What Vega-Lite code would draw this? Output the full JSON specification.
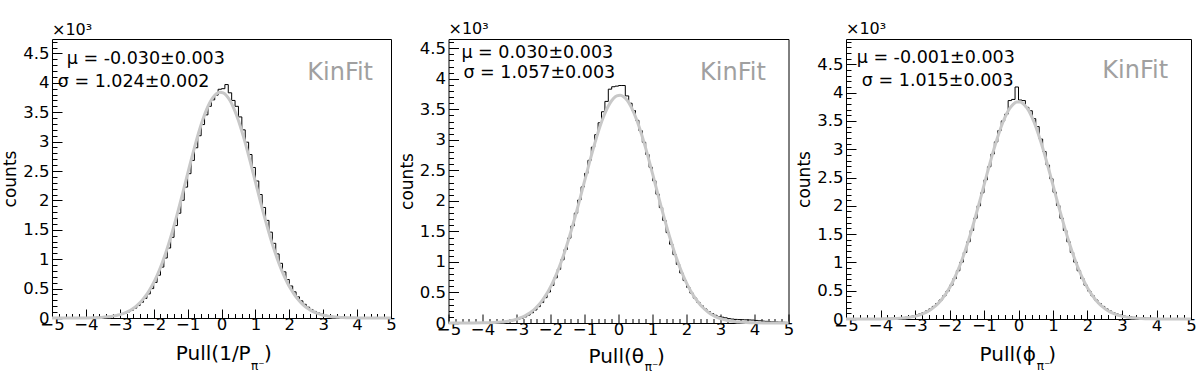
{
  "$schema": "https://vega.github.io/schema/vega-lite/v6.json",
  "background": "white",
  "padding": {"left": 1, "top": 20, "right": 5, "bottom": 2},
  "bounds": "flush",
  "spacing": 57.5,
  "config": {
    "font": "DejaVu Sans",
    "view": {"stroke": "black", "strokeWidth": 1},
    "axis": {
      "grid": false, "domain": false, "ticks": true, "tickColor": "black", "tickWidth": 1,
      "labelColor": "black", "labelFont": "DejaVu Sans", "labelFontSize": 16.5,
      "labelOverlap": false, "labelFlush": false, "labelBound": false,
      "titleColor": "black", "titleFont": "DejaVu Sans", "titleFontWeight": "normal"
    },
    "text": {"font": "DejaVu Sans", "align": "left", "baseline": "alphabetic", "color": "black"}
  },
  "datasets": {
    "hist": [
      {"v":"P","pull":-4.95,"count":0},{"v":"P","pull":-4.85,"count":1},{"v":"P","pull":-4.75,"count":1},{"v":"P","pull":-4.65,"count":1},{"v":"P","pull":-4.55,"count":2},{"v":"P","pull":-4.45,"count":2},{"v":"P","pull":-4.35,"count":3},{"v":"P","pull":-4.25,"count":3},{"v":"P","pull":-4.15,"count":4},{"v":"P","pull":-4.05,"count":5},
      {"v":"P","pull":-3.95,"count":6},{"v":"P","pull":-3.85,"count":8},{"v":"P","pull":-3.75,"count":10},{"v":"P","pull":-3.65,"count":12},{"v":"P","pull":-3.55,"count":15},{"v":"P","pull":-3.45,"count":18},{"v":"P","pull":-3.35,"count":22},{"v":"P","pull":-3.25,"count":28},{"v":"P","pull":-3.15,"count":36},{"v":"P","pull":-3.05,"count":48},
      {"v":"P","pull":-2.95,"count":62},{"v":"P","pull":-2.85,"count":80},{"v":"P","pull":-2.75,"count":104},{"v":"P","pull":-2.65,"count":132},{"v":"P","pull":-2.55,"count":168},{"v":"P","pull":-2.45,"count":212},{"v":"P","pull":-2.35,"count":268},{"v":"P","pull":-2.25,"count":333},{"v":"P","pull":-2.15,"count":410},{"v":"P","pull":-2.05,"count":500},
      {"v":"P","pull":-1.95,"count":605},{"v":"P","pull":-1.85,"count":728},{"v":"P","pull":-1.75,"count":866},{"v":"P","pull":-1.65,"count":1020},{"v":"P","pull":-1.55,"count":1190},{"v":"P","pull":-1.45,"count":1372},{"v":"P","pull":-1.35,"count":1572},{"v":"P","pull":-1.25,"count":1782},{"v":"P","pull":-1.15,"count":2002},{"v":"P","pull":-1.05,"count":2226},
      {"v":"P","pull":-0.95,"count":2455},{"v":"P","pull":-0.85,"count":2680},{"v":"P","pull":-0.75,"count":2895},{"v":"P","pull":-0.65,"count":3100},{"v":"P","pull":-0.55,"count":3290},{"v":"P","pull":-0.45,"count":3455},{"v":"P","pull":-0.35,"count":3600},{"v":"P","pull":-0.25,"count":3710},{"v":"P","pull":-0.15,"count":3790},{"v":"P","pull":-0.05,"count":3890},
      {"v":"P","pull":0.05,"count":3900},{"v":"P","pull":0.15,"count":3970},{"v":"P","pull":0.25,"count":3830},{"v":"P","pull":0.35,"count":3700},{"v":"P","pull":0.45,"count":3600},{"v":"P","pull":0.55,"count":3420},{"v":"P","pull":0.65,"count":3200},{"v":"P","pull":0.75,"count":2990},{"v":"P","pull":0.85,"count":2780},{"v":"P","pull":0.95,"count":2560},
      {"v":"P","pull":1.05,"count":2330},{"v":"P","pull":1.15,"count":2100},{"v":"P","pull":1.25,"count":1880},{"v":"P","pull":1.35,"count":1660},{"v":"P","pull":1.45,"count":1460},{"v":"P","pull":1.55,"count":1270},{"v":"P","pull":1.65,"count":1090},{"v":"P","pull":1.75,"count":930},{"v":"P","pull":1.85,"count":785},{"v":"P","pull":1.95,"count":655},
      {"v":"P","pull":2.05,"count":545},{"v":"P","pull":2.15,"count":445},{"v":"P","pull":2.25,"count":360},{"v":"P","pull":2.35,"count":292},{"v":"P","pull":2.45,"count":233},{"v":"P","pull":2.55,"count":184},{"v":"P","pull":2.65,"count":145},{"v":"P","pull":2.75,"count":112},{"v":"P","pull":2.85,"count":86},{"v":"P","pull":2.95,"count":66},
      {"v":"P","pull":3.05,"count":50},{"v":"P","pull":3.15,"count":38},{"v":"P","pull":3.25,"count":29},{"v":"P","pull":3.35,"count":22},{"v":"P","pull":3.45,"count":17},{"v":"P","pull":3.55,"count":13},{"v":"P","pull":3.65,"count":10},{"v":"P","pull":3.75,"count":8},{"v":"P","pull":3.85,"count":6},{"v":"P","pull":3.95,"count":5},
      {"v":"P","pull":4.05,"count":4},{"v":"P","pull":4.15,"count":3},{"v":"P","pull":4.25,"count":2},{"v":"P","pull":4.35,"count":2},{"v":"P","pull":4.45,"count":1},{"v":"P","pull":4.55,"count":1},{"v":"P","pull":4.65,"count":1},{"v":"P","pull":4.75,"count":0},{"v":"P","pull":4.85,"count":0},{"v":"P","pull":4.95,"count":0},

      {"v":"theta","pull":-4.95,"count":1},{"v":"theta","pull":-4.85,"count":1},{"v":"theta","pull":-4.75,"count":1},{"v":"theta","pull":-4.65,"count":2},{"v":"theta","pull":-4.55,"count":2},{"v":"theta","pull":-4.45,"count":2},{"v":"theta","pull":-4.35,"count":3},{"v":"theta","pull":-4.25,"count":3},{"v":"theta","pull":-4.15,"count":4},{"v":"theta","pull":-4.05,"count":5},
      {"v":"theta","pull":-3.95,"count":6},{"v":"theta","pull":-3.85,"count":7},{"v":"theta","pull":-3.75,"count":9},{"v":"theta","pull":-3.65,"count":11},{"v":"theta","pull":-3.55,"count":13},{"v":"theta","pull":-3.45,"count":16},{"v":"theta","pull":-3.35,"count":20},{"v":"theta","pull":-3.25,"count":26},{"v":"theta","pull":-3.15,"count":34},{"v":"theta","pull":-3.05,"count":45},
      {"v":"theta","pull":-2.95,"count":59},{"v":"theta","pull":-2.85,"count":77},{"v":"theta","pull":-2.75,"count":100},{"v":"theta","pull":-2.65,"count":130},{"v":"theta","pull":-2.55,"count":168},{"v":"theta","pull":-2.45,"count":213},{"v":"theta","pull":-2.35,"count":268},{"v":"theta","pull":-2.25,"count":335},{"v":"theta","pull":-2.15,"count":415},{"v":"theta","pull":-2.05,"count":508},
      {"v":"theta","pull":-1.95,"count":615},{"v":"theta","pull":-1.85,"count":740},{"v":"theta","pull":-1.75,"count":880},{"v":"theta","pull":-1.65,"count":1035},{"v":"theta","pull":-1.55,"count":1205},{"v":"theta","pull":-1.45,"count":1390},{"v":"theta","pull":-1.35,"count":1590},{"v":"theta","pull":-1.25,"count":1800},{"v":"theta","pull":-1.15,"count":2015},{"v":"theta","pull":-1.05,"count":2230},
      {"v":"theta","pull":-0.95,"count":2450},{"v":"theta","pull":-0.85,"count":2665},{"v":"theta","pull":-0.75,"count":2880},{"v":"theta","pull":-0.65,"count":3085},{"v":"theta","pull":-0.55,"count":3280},{"v":"theta","pull":-0.45,"count":3460},{"v":"theta","pull":-0.35,"count":3630},{"v":"theta","pull":-0.25,"count":3830},{"v":"theta","pull":-0.15,"count":3870},{"v":"theta","pull":-0.05,"count":3880},
      {"v":"theta","pull":0.05,"count":3890},{"v":"theta","pull":0.15,"count":3890},{"v":"theta","pull":0.25,"count":3720},{"v":"theta","pull":0.35,"count":3600},{"v":"theta","pull":0.45,"count":3480},{"v":"theta","pull":0.55,"count":3320},{"v":"theta","pull":0.65,"count":3150},{"v":"theta","pull":0.75,"count":2960},{"v":"theta","pull":0.85,"count":2760},{"v":"theta","pull":0.95,"count":2550},
      {"v":"theta","pull":1.05,"count":2330},{"v":"theta","pull":1.15,"count":2110},{"v":"theta","pull":1.25,"count":1890},{"v":"theta","pull":1.35,"count":1680},{"v":"theta","pull":1.45,"count":1480},{"v":"theta","pull":1.55,"count":1290},{"v":"theta","pull":1.65,"count":1120},{"v":"theta","pull":1.75,"count":960},{"v":"theta","pull":1.85,"count":820},{"v":"theta","pull":1.95,"count":695},
      {"v":"theta","pull":2.05,"count":585},{"v":"theta","pull":2.15,"count":490},{"v":"theta","pull":2.25,"count":408},{"v":"theta","pull":2.35,"count":338},{"v":"theta","pull":2.45,"count":280},{"v":"theta","pull":2.55,"count":230},{"v":"theta","pull":2.65,"count":188},{"v":"theta","pull":2.75,"count":154},{"v":"theta","pull":2.85,"count":126},{"v":"theta","pull":2.95,"count":104},
      {"v":"theta","pull":3.05,"count":95},{"v":"theta","pull":3.15,"count":85},{"v":"theta","pull":3.25,"count":72},{"v":"theta","pull":3.35,"count":64},{"v":"theta","pull":3.45,"count":59},{"v":"theta","pull":3.55,"count":56},{"v":"theta","pull":3.65,"count":54},{"v":"theta","pull":3.75,"count":52},{"v":"theta","pull":3.85,"count":50},{"v":"theta","pull":3.95,"count":48},
      {"v":"theta","pull":4.05,"count":42},{"v":"theta","pull":4.15,"count":36},{"v":"theta","pull":4.25,"count":31},{"v":"theta","pull":4.35,"count":27},{"v":"theta","pull":4.45,"count":23},{"v":"theta","pull":4.55,"count":20},{"v":"theta","pull":4.65,"count":17},{"v":"theta","pull":4.75,"count":14},{"v":"theta","pull":4.85,"count":12},{"v":"theta","pull":4.95,"count":10},

      {"v":"phi","pull":-4.95,"count":1},{"v":"phi","pull":-4.85,"count":1},{"v":"phi","pull":-4.75,"count":2},{"v":"phi","pull":-4.65,"count":2},{"v":"phi","pull":-4.55,"count":2},{"v":"phi","pull":-4.45,"count":3},{"v":"phi","pull":-4.35,"count":3},{"v":"phi","pull":-4.25,"count":4},{"v":"phi","pull":-4.15,"count":5},{"v":"phi","pull":-4.05,"count":6},
      {"v":"phi","pull":-3.95,"count":7},{"v":"phi","pull":-3.85,"count":9},{"v":"phi","pull":-3.75,"count":11},{"v":"phi","pull":-3.65,"count":13},{"v":"phi","pull":-3.55,"count":16},{"v":"phi","pull":-3.45,"count":20},{"v":"phi","pull":-3.35,"count":25},{"v":"phi","pull":-3.25,"count":31},{"v":"phi","pull":-3.15,"count":40},{"v":"phi","pull":-3.05,"count":52},
      {"v":"phi","pull":-2.95,"count":68},{"v":"phi","pull":-2.85,"count":88},{"v":"phi","pull":-2.75,"count":112},{"v":"phi","pull":-2.65,"count":142},{"v":"phi","pull":-2.55,"count":178},{"v":"phi","pull":-2.45,"count":222},{"v":"phi","pull":-2.35,"count":274},{"v":"phi","pull":-2.25,"count":336},{"v":"phi","pull":-2.15,"count":410},{"v":"phi","pull":-2.05,"count":495},
      {"v":"phi","pull":-1.95,"count":596},{"v":"phi","pull":-1.85,"count":715},{"v":"phi","pull":-1.75,"count":852},{"v":"phi","pull":-1.65,"count":1005},{"v":"phi","pull":-1.55,"count":1175},{"v":"phi","pull":-1.45,"count":1365},{"v":"phi","pull":-1.35,"count":1565},{"v":"phi","pull":-1.25,"count":1780},{"v":"phi","pull":-1.15,"count":2000},{"v":"phi","pull":-1.05,"count":2230},
      {"v":"phi","pull":-0.95,"count":2460},{"v":"phi","pull":-0.85,"count":2690},{"v":"phi","pull":-0.75,"count":2915},{"v":"phi","pull":-0.65,"count":3130},{"v":"phi","pull":-0.55,"count":3330},{"v":"phi","pull":-0.45,"count":3500},{"v":"phi","pull":-0.35,"count":3620},{"v":"phi","pull":-0.25,"count":3860},{"v":"phi","pull":-0.15,"count":3880},{"v":"phi","pull":-0.05,"count":4100},
      {"v":"phi","pull":0.05,"count":3870},{"v":"phi","pull":0.15,"count":3860},{"v":"phi","pull":0.25,"count":3740},{"v":"phi","pull":0.35,"count":3680},{"v":"phi","pull":0.45,"count":3540},{"v":"phi","pull":0.55,"count":3400},{"v":"phi","pull":0.65,"count":3180},{"v":"phi","pull":0.75,"count":2960},{"v":"phi","pull":0.85,"count":2720},{"v":"phi","pull":0.95,"count":2480},
      {"v":"phi","pull":1.05,"count":2240},{"v":"phi","pull":1.15,"count":2005},{"v":"phi","pull":1.25,"count":1780},{"v":"phi","pull":1.35,"count":1565},{"v":"phi","pull":1.45,"count":1365},{"v":"phi","pull":1.55,"count":1175},{"v":"phi","pull":1.65,"count":1005},{"v":"phi","pull":1.75,"count":852},{"v":"phi","pull":1.85,"count":715},{"v":"phi","pull":1.95,"count":596},
      {"v":"phi","pull":2.05,"count":495},{"v":"phi","pull":2.15,"count":410},{"v":"phi","pull":2.25,"count":336},{"v":"phi","pull":2.35,"count":274},{"v":"phi","pull":2.45,"count":222},{"v":"phi","pull":2.55,"count":178},{"v":"phi","pull":2.65,"count":142},{"v":"phi","pull":2.75,"count":112},{"v":"phi","pull":2.85,"count":88},{"v":"phi","pull":2.95,"count":68},
      {"v":"phi","pull":3.05,"count":54},{"v":"phi","pull":3.15,"count":43},{"v":"phi","pull":3.25,"count":35},{"v":"phi","pull":3.35,"count":29},{"v":"phi","pull":3.45,"count":24},{"v":"phi","pull":3.55,"count":20},{"v":"phi","pull":3.65,"count":17},{"v":"phi","pull":3.75,"count":14},{"v":"phi","pull":3.85,"count":12},{"v":"phi","pull":3.95,"count":10},
      {"v":"phi","pull":4.05,"count":8},{"v":"phi","pull":4.15,"count":7},{"v":"phi","pull":4.25,"count":6},{"v":"phi","pull":4.35,"count":5},{"v":"phi","pull":4.45,"count":4},{"v":"phi","pull":4.55,"count":3},{"v":"phi","pull":4.65,"count":3},{"v":"phi","pull":4.75,"count":2},{"v":"phi","pull":4.85,"count":2},{"v":"phi","pull":4.95,"count":1}
    ],
    "fit": [
      {"v":"P","pull":-5,"count":0},{"v":"P","pull":-4.5,"count":0},{"v":"P","pull":-4,"count":2},{"v":"P","pull":-3.75,"count":5},{"v":"P","pull":-3.55,"count":10},{"v":"P","pull":-3.45,"count":15},{"v":"P","pull":-3.35,"count":20},{"v":"P","pull":-3.25,"count":27},{"v":"P","pull":-3.15,"count":37},{"v":"P","pull":-3.05,"count":50},
      {"v":"P","pull":-2.95,"count":66},{"v":"P","pull":-2.85,"count":87},{"v":"P","pull":-2.75,"count":113},{"v":"P","pull":-2.65,"count":146},{"v":"P","pull":-2.55,"count":186},{"v":"P","pull":-2.45,"count":235},{"v":"P","pull":-2.35,"count":295},{"v":"P","pull":-2.25,"count":366},{"v":"P","pull":-2.15,"count":450},{"v":"P","pull":-2.05,"count":549},
      {"v":"P","pull":-1.95,"count":662},{"v":"P","pull":-1.85,"count":791},{"v":"P","pull":-1.75,"count":937},{"v":"P","pull":-1.65,"count":1099},{"v":"P","pull":-1.55,"count":1276},{"v":"P","pull":-1.45,"count":1468},{"v":"P","pull":-1.35,"count":1673},{"v":"P","pull":-1.25,"count":1888},{"v":"P","pull":-1.15,"count":2111},{"v":"P","pull":-1.05,"count":2338},
      {"v":"P","pull":-0.95,"count":2565},{"v":"P","pull":-0.85,"count":2787},{"v":"P","pull":-0.75,"count":2999},{"v":"P","pull":-0.65,"count":3197},{"v":"P","pull":-0.55,"count":3375},{"v":"P","pull":-0.45,"count":3530},{"v":"P","pull":-0.35,"count":3657},{"v":"P","pull":-0.25,"count":3752},{"v":"P","pull":-0.15,"count":3814},{"v":"P","pull":-0.05,"count":3839},
      {"v":"P","pull":0.05,"count":3828},{"v":"P","pull":0.15,"count":3781},{"v":"P","pull":0.25,"count":3699},{"v":"P","pull":0.35,"count":3584},{"v":"P","pull":0.45,"count":3441},{"v":"P","pull":0.55,"count":3271},{"v":"P","pull":0.65,"count":3080},{"v":"P","pull":0.75,"count":2873},{"v":"P","pull":0.85,"count":2654},{"v":"P","pull":0.95,"count":2429},
      {"v":"P","pull":1.05,"count":2202},{"v":"P","pull":1.15,"count":1977},{"v":"P","pull":1.25,"count":1758},{"v":"P","pull":1.35,"count":1549},{"v":"P","pull":1.45,"count":1351},{"v":"P","pull":1.55,"count":1168},{"v":"P","pull":1.65,"count":1000},{"v":"P","pull":1.75,"count":848},{"v":"P","pull":1.85,"count":712},{"v":"P","pull":1.95,"count":592},
      {"v":"P","pull":2.05,"count":488},{"v":"P","pull":2.15,"count":398},{"v":"P","pull":2.25,"count":322},{"v":"P","pull":2.35,"count":258},{"v":"P","pull":2.45,"count":204},{"v":"P","pull":2.55,"count":161},{"v":"P","pull":2.65,"count":125},{"v":"P","pull":2.75,"count":96},{"v":"P","pull":2.85,"count":74},{"v":"P","pull":2.95,"count":56},
      {"v":"P","pull":3.05,"count":42},{"v":"P","pull":3.15,"count":31},{"v":"P","pull":3.25,"count":23},{"v":"P","pull":3.35,"count":17},{"v":"P","pull":3.45,"count":12},{"v":"P","pull":3.55,"count":9},{"v":"P","pull":3.75,"count":4},{"v":"P","pull":4,"count":2},{"v":"P","pull":4.5,"count":0},{"v":"P","pull":5,"count":0},

      {"v":"theta","pull":-5,"count":0},{"v":"theta","pull":-4.5,"count":0},{"v":"theta","pull":-4,"count":3},{"v":"theta","pull":-3.75,"count":6},{"v":"theta","pull":-3.55,"count":12},{"v":"theta","pull":-3.45,"count":16},{"v":"theta","pull":-3.35,"count":22},{"v":"theta","pull":-3.25,"count":30},{"v":"theta","pull":-3.15,"count":40},{"v":"theta","pull":-3.05,"count":53},
      {"v":"theta","pull":-2.95,"count":70},{"v":"theta","pull":-2.85,"count":91},{"v":"theta","pull":-2.75,"count":117},{"v":"theta","pull":-2.65,"count":150},{"v":"theta","pull":-2.55,"count":190},{"v":"theta","pull":-2.45,"count":238},{"v":"theta","pull":-2.35,"count":296},{"v":"theta","pull":-2.25,"count":364},{"v":"theta","pull":-2.15,"count":445},{"v":"theta","pull":-2.05,"count":538},
      {"v":"theta","pull":-1.95,"count":645},{"v":"theta","pull":-1.85,"count":767},{"v":"theta","pull":-1.75,"count":903},{"v":"theta","pull":-1.65,"count":1055},{"v":"theta","pull":-1.55,"count":1220},{"v":"theta","pull":-1.45,"count":1400},{"v":"theta","pull":-1.35,"count":1591},{"v":"theta","pull":-1.25,"count":1792},{"v":"theta","pull":-1.15,"count":2000},{"v":"theta","pull":-1.05,"count":2213},
      {"v":"theta","pull":-0.95,"count":2427},{"v":"theta","pull":-0.85,"count":2638},{"v":"theta","pull":-0.75,"count":2841},{"v":"theta","pull":-0.65,"count":3033},{"v":"theta","pull":-0.55,"count":3209},{"v":"theta","pull":-0.45,"count":3365},{"v":"theta","pull":-0.35,"count":3497},{"v":"theta","pull":-0.25,"count":3601},{"v":"theta","pull":-0.15,"count":3676},{"v":"theta","pull":-0.05,"count":3719},
      {"v":"theta","pull":0.05,"count":3729},{"v":"theta","pull":0.15,"count":3706},{"v":"theta","pull":0.25,"count":3650},{"v":"theta","pull":0.35,"count":3563},{"v":"theta","pull":0.45,"count":3447},{"v":"theta","pull":0.55,"count":3305},{"v":"theta","pull":0.65,"count":3140},{"v":"theta","pull":0.75,"count":2958},{"v":"theta","pull":0.85,"count":2761},{"v":"theta","pull":0.95,"count":2554},
      {"v":"theta","pull":1.05,"count":2342},{"v":"theta","pull":1.15,"count":2128},{"v":"theta","pull":1.25,"count":1916},{"v":"theta","pull":1.35,"count":1710},{"v":"theta","pull":1.45,"count":1513},{"v":"theta","pull":1.55,"count":1326},{"v":"theta","pull":1.65,"count":1152},{"v":"theta","pull":1.75,"count":993},{"v":"theta","pull":1.85,"count":847},{"v":"theta","pull":1.95,"count":716},
      {"v":"theta","pull":2.05,"count":601},{"v":"theta","pull":2.15,"count":499},{"v":"theta","pull":2.25,"count":411},{"v":"theta","pull":2.35,"count":335},{"v":"theta","pull":2.45,"count":271},{"v":"theta","pull":2.55,"count":218},{"v":"theta","pull":2.65,"count":173},{"v":"theta","pull":2.75,"count":136},{"v":"theta","pull":2.85,"count":106},{"v":"theta","pull":2.95,"count":82},
      {"v":"theta","pull":3.05,"count":63},{"v":"theta","pull":3.15,"count":48},{"v":"theta","pull":3.25,"count":36},{"v":"theta","pull":3.35,"count":27},{"v":"theta","pull":3.45,"count":20},{"v":"theta","pull":3.55,"count":15},{"v":"theta","pull":3.75,"count":8},{"v":"theta","pull":4,"count":3},{"v":"theta","pull":4.5,"count":1},{"v":"theta","pull":5,"count":0},

      {"v":"phi","pull":-5,"count":0},{"v":"phi","pull":-4.5,"count":0},{"v":"phi","pull":-4,"count":2},{"v":"phi","pull":-3.75,"count":4},{"v":"phi","pull":-3.55,"count":9},{"v":"phi","pull":-3.45,"count":12},{"v":"phi","pull":-3.35,"count":17},{"v":"phi","pull":-3.25,"count":23},{"v":"phi","pull":-3.15,"count":31},{"v":"phi","pull":-3.05,"count":42},
      {"v":"phi","pull":-2.95,"count":56},{"v":"phi","pull":-2.85,"count":74},{"v":"phi","pull":-2.75,"count":98},{"v":"phi","pull":-2.65,"count":127},{"v":"phi","pull":-2.55,"count":163},{"v":"phi","pull":-2.45,"count":209},{"v":"phi","pull":-2.35,"count":263},{"v":"phi","pull":-2.25,"count":328},{"v":"phi","pull":-2.15,"count":407},{"v":"phi","pull":-2.05,"count":499},
      {"v":"phi","pull":-1.95,"count":606},{"v":"phi","pull":-1.85,"count":729},{"v":"phi","pull":-1.75,"count":870},{"v":"phi","pull":-1.65,"count":1025},{"v":"phi","pull":-1.55,"count":1198},{"v":"phi","pull":-1.45,"count":1386},{"v":"phi","pull":-1.35,"count":1589},{"v":"phi","pull":-1.25,"count":1803},{"v":"phi","pull":-1.15,"count":2023},{"v":"phi","pull":-1.05,"count":2250},
      {"v":"phi","pull":-0.95,"count":2478},{"v":"phi","pull":-0.85,"count":2704},{"v":"phi","pull":-0.75,"count":2921},{"v":"phi","pull":-0.65,"count":3127},{"v":"phi","pull":-0.55,"count":3315},{"v":"phi","pull":-0.45,"count":3481},{"v":"phi","pull":-0.35,"count":3618},{"v":"phi","pull":-0.25,"count":3725},{"v":"phi","pull":-0.15,"count":3798},{"v":"phi","pull":-0.05,"count":3835},
      {"v":"phi","pull":0.05,"count":3835},{"v":"phi","pull":0.15,"count":3798},{"v":"phi","pull":0.25,"count":3725},{"v":"phi","pull":0.35,"count":3618},{"v":"phi","pull":0.45,"count":3481},{"v":"phi","pull":0.55,"count":3315},{"v":"phi","pull":0.65,"count":3127},{"v":"phi","pull":0.75,"count":2921},{"v":"phi","pull":0.85,"count":2704},{"v":"phi","pull":0.95,"count":2478},
      {"v":"phi","pull":1.05,"count":2250},{"v":"phi","pull":1.15,"count":2023},{"v":"phi","pull":1.25,"count":1803},{"v":"phi","pull":1.35,"count":1589},{"v":"phi","pull":1.45,"count":1386},{"v":"phi","pull":1.55,"count":1198},{"v":"phi","pull":1.65,"count":1025},{"v":"phi","pull":1.75,"count":870},{"v":"phi","pull":1.85,"count":729},{"v":"phi","pull":1.95,"count":606},
      {"v":"phi","pull":2.05,"count":499},{"v":"phi","pull":2.15,"count":407},{"v":"phi","pull":2.25,"count":328},{"v":"phi","pull":2.35,"count":263},{"v":"phi","pull":2.45,"count":209},{"v":"phi","pull":2.55,"count":163},{"v":"phi","pull":2.65,"count":127},{"v":"phi","pull":2.75,"count":98},{"v":"phi","pull":2.85,"count":74},{"v":"phi","pull":2.95,"count":56},
      {"v":"phi","pull":3.05,"count":42},{"v":"phi","pull":3.15,"count":31},{"v":"phi","pull":3.25,"count":23},{"v":"phi","pull":3.35,"count":17},{"v":"phi","pull":3.45,"count":12},{"v":"phi","pull":3.55,"count":9},{"v":"phi","pull":3.75,"count":4},{"v":"phi","pull":4,"count":2},{"v":"phi","pull":4.5,"count":0},{"v":"phi","pull":5,"count":0}
    ]
  },
  "hconcat": [
    {
      "width": 339, "height": 279,
      "layer": [
        {"data": {"name": "hist"}, "transform": [{"filter": "datum.v === 'P'"}],
         "mark": {"type": "line", "interpolate": "step", "color": "black", "strokeWidth": 1},
         "encoding": {
          "x": {"field": "pull", "type": "quantitative", "scale": {"domain": [-5, 5], "nice": false, "zero": false},
            "axis": {"title": null, "grid": false, "labelOverlap": false, "labelFlush": false, "labelBound": false, "tickCount": 500,
              "values": [-5,-4.8,-4.6,-4.4,-4.2,-4,-3.8,-3.6,-3.4,-3.2,-3,-2.8,-2.6,-2.4,-2.2,-2,-1.8,-1.6,-1.4,-1.2,-1,-0.8,-0.6,-0.4,-0.2,0,0.2,0.4,0.6,0.8,1,1.2,1.4,1.6,1.8,2,2.2,2.4,2.6,2.8,3,3.2,3.4,3.6,3.8,4,4.2,4.4,4.6,4.8,5],
              "labelExpr": "abs(datum.value - round(datum.value)) < 0.01 ? format(datum.value, 'd') : ''",
              "tickSize": {"condition": {"test": "abs(datum.value - round(datum.value)) < 0.01", "value": -9}, "value": -4.5},
              "labelPadding": 7}},
          "y": {"field": "count", "type": "quantitative", "scale": {"domain": [0, 4745], "nice": false, "zero": true},
            "axis": {"title": "counts", "titleFontSize": 17, "titlePadding": 3, "grid": false, "labelOverlap": false, "labelFlush": false, "labelBound": false, "tickCount": 500,
              "values": [0,100,200,300,400,500,600,700,800,900,1000,1100,1200,1300,1400,1500,1600,1700,1800,1900,2000,2100,2200,2300,2400,2500,2600,2700,2800,2900,3000,3100,3200,3300,3400,3500,3600,3700,3800,3900,4000,4100,4200,4300,4400,4500,4600,4700],
              "labelExpr": "datum.value % 500 === 0 ? format(datum.value / 1000, '') : ''",
              "tickSize": {"condition": {"test": "datum.value % 500 === 0", "value": -10}, "value": -5},
              "labelPadding": 13}}}},
        {"data": {"name": "fit"}, "transform": [{"filter": "datum.v === 'P'"}],
         "mark": {"type": "line", "interpolate": "monotone", "color": "#c8c8c8", "strokeWidth": 3},
         "encoding": {"x": {"field": "pull", "type": "quantitative", "scale": {"domain": [-5, 5], "nice": false, "zero": false}}, "y": {"field": "count", "type": "quantitative", "scale": {"domain": [0, 4745], "nice": false, "zero": true}}}},
        {"data": {"values": [{"t": "×10³"}]}, "mark": {"type": "text", "fontSize": 16, "color": "black"},
         "encoding": {"x": {"datum": -5, "type": "quantitative", "scale": {"domain": [-5, 5], "nice": false, "zero": false}}, "y": {"datum": 4820, "type": "quantitative", "scale": {"domain": [0, 4745], "nice": false, "zero": true}}, "text": {"field": "t"}}},
        {"data": {"values": [{"t": "μ = -0.030±0.003"}]}, "mark": {"type": "text", "fontSize": 17.5, "color": "black"},
         "encoding": {"x": {"datum": -4.566, "type": "quantitative", "scale": {"domain": [-5, 5], "nice": false, "zero": false}}, "y": {"datum": 4315, "type": "quantitative", "scale": {"domain": [0, 4745], "nice": false, "zero": true}}, "text": {"field": "t"}}},
        {"data": {"values": [{"t": "σ = 1.024±0.002"}]}, "mark": {"type": "text", "fontSize": 17.5, "color": "black"},
         "encoding": {"x": {"datum": -4.83, "type": "quantitative", "scale": {"domain": [-5, 5], "nice": false, "zero": false}}, "y": {"datum": 3924, "type": "quantitative", "scale": {"domain": [0, 4745], "nice": false, "zero": true}}, "text": {"field": "t"}}},
        {"data": {"values": [{"t": "KinFit"}]}, "mark": {"type": "text", "fontSize": 24, "color": "#a0a0a0"},
         "encoding": {"x": {"datum": 2.53, "type": "quantitative", "scale": {"domain": [-5, 5], "nice": false, "zero": false}}, "y": {"datum": 4043, "type": "quantitative", "scale": {"domain": [0, 4745], "nice": false, "zero": true}}, "text": {"field": "t"}}},
        {"data": {"values": [{"t": "Pull(1/P"}]}, "mark": {"type": "text", "fontSize": 20, "color": "black", "align": "right"},
         "encoding": {"x": {"datum": 0.861, "type": "quantitative", "scale": {"domain": [-5, 5], "nice": false, "zero": false}}, "y": {"datum": -707, "type": "quantitative", "scale": {"domain": [0, 4745], "nice": false, "zero": true}}, "text": {"field": "t"}}},
        {"data": {"values": [{"t": "π⁻"}]}, "mark": {"type": "text", "fontSize": 12, "color": "black"},
         "encoding": {"x": {"datum": 0.87, "type": "quantitative", "scale": {"domain": [-5, 5], "nice": false, "zero": false}}, "y": {"datum": -878, "type": "quantitative", "scale": {"domain": [0, 4745], "nice": false, "zero": true}}, "text": {"field": "t"}}},
        {"data": {"values": [{"t": ")"}]}, "mark": {"type": "text", "fontSize": 20, "color": "black"},
         "encoding": {"x": {"datum": 1.25, "type": "quantitative", "scale": {"domain": [-5, 5], "nice": false, "zero": false}}, "y": {"datum": -707, "type": "quantitative", "scale": {"domain": [0, 4745], "nice": false, "zero": true}}, "text": {"field": "t"}}}
      ]
    },
    {
      "width": 340, "height": 284,
      "layer": [
        {"data": {"name": "hist"}, "transform": [{"filter": "datum.v === 'theta'"}],
         "mark": {"type": "line", "interpolate": "step", "color": "black", "strokeWidth": 1},
         "encoding": {
          "x": {"field": "pull", "type": "quantitative", "scale": {"domain": [-5, 5], "nice": false, "zero": false},
            "axis": {"title": null, "grid": false, "labelOverlap": false, "labelFlush": false, "labelBound": false, "tickCount": 500,
              "values": [-5,-4.8,-4.6,-4.4,-4.2,-4,-3.8,-3.6,-3.4,-3.2,-3,-2.8,-2.6,-2.4,-2.2,-2,-1.8,-1.6,-1.4,-1.2,-1,-0.8,-0.6,-0.4,-0.2,0,0.2,0.4,0.6,0.8,1,1.2,1.4,1.6,1.8,2,2.2,2.4,2.6,2.8,3,3.2,3.4,3.6,3.8,4,4.2,4.4,4.6,4.8,5],
              "labelExpr": "abs(datum.value - round(datum.value)) < 0.01 ? format(datum.value, 'd') : ''",
              "tickSize": {"condition": {"test": "abs(datum.value - round(datum.value)) < 0.01", "value": -9}, "value": -4.5},
              "labelPadding": 7}},
          "y": {"field": "count", "type": "quantitative", "scale": {"domain": [0, 4652], "nice": false, "zero": true},
            "axis": {"title": "counts", "titleFontSize": 17, "titlePadding": 3, "grid": false, "labelOverlap": false, "labelFlush": false, "labelBound": false, "tickCount": 500,
              "values": [0,100,200,300,400,500,600,700,800,900,1000,1100,1200,1300,1400,1500,1600,1700,1800,1900,2000,2100,2200,2300,2400,2500,2600,2700,2800,2900,3000,3100,3200,3300,3400,3500,3600,3700,3800,3900,4000,4100,4200,4300,4400,4500,4600],
              "labelExpr": "datum.value % 500 === 0 ? format(datum.value / 1000, '') : ''",
              "tickSize": {"condition": {"test": "datum.value % 500 === 0", "value": -10}, "value": -5},
              "labelPadding": 13}}}},
        {"data": {"name": "fit"}, "transform": [{"filter": "datum.v === 'theta'"}],
         "mark": {"type": "line", "interpolate": "monotone", "color": "#c8c8c8", "strokeWidth": 3},
         "encoding": {"x": {"field": "pull", "type": "quantitative", "scale": {"domain": [-5, 5], "nice": false, "zero": false}}, "y": {"field": "count", "type": "quantitative", "scale": {"domain": [0, 4652], "nice": false, "zero": true}}}},
        {"data": {"values": [{"t": "×10³"}]}, "mark": {"type": "text", "fontSize": 16, "color": "black"},
         "encoding": {"x": {"datum": -5, "type": "quantitative", "scale": {"domain": [-5, 5], "nice": false, "zero": false}}, "y": {"datum": 4729, "type": "quantitative", "scale": {"domain": [0, 4652], "nice": false, "zero": true}}, "text": {"field": "t"}}},
        {"data": {"values": [{"t": "μ = 0.030±0.003"}]}, "mark": {"type": "text", "fontSize": 17.5, "color": "black"},
         "encoding": {"x": {"datum": -4.62, "type": "quantitative", "scale": {"domain": [-5, 5], "nice": false, "zero": false}}, "y": {"datum": 4341, "type": "quantitative", "scale": {"domain": [0, 4652], "nice": false, "zero": true}}, "text": {"field": "t"}}},
        {"data": {"values": [{"t": "σ = 1.057±0.003"}]}, "mark": {"type": "text", "fontSize": 17.5, "color": "black"},
         "encoding": {"x": {"datum": -4.56, "type": "quantitative", "scale": {"domain": [-5, 5], "nice": false, "zero": false}}, "y": {"datum": 4013, "type": "quantitative", "scale": {"domain": [0, 4652], "nice": false, "zero": true}}, "text": {"field": "t"}}},
        {"data": {"values": [{"t": "KinFit"}]}, "mark": {"type": "text", "fontSize": 24, "color": "#a0a0a0"},
         "encoding": {"x": {"datum": 2.4, "type": "quantitative", "scale": {"domain": [-5, 5], "nice": false, "zero": false}}, "y": {"datum": 3975, "type": "quantitative", "scale": {"domain": [0, 4652], "nice": false, "zero": true}}, "text": {"field": "t"}}},
        {"data": {"values": [{"t": "Pull(θ"}]}, "mark": {"type": "text", "fontSize": 20, "color": "black", "align": "right"},
         "encoding": {"x": {"datum": 0.75, "type": "quantitative", "scale": {"domain": [-5, 5], "nice": false, "zero": false}}, "y": {"datum": -656, "type": "quantitative", "scale": {"domain": [0, 4652], "nice": false, "zero": true}}, "text": {"field": "t"}}},
        {"data": {"values": [{"t": "π⁻"}]}, "mark": {"type": "text", "fontSize": 12, "color": "black"},
         "encoding": {"x": {"datum": 0.77, "type": "quantitative", "scale": {"domain": [-5, 5], "nice": false, "zero": false}}, "y": {"datum": -792, "type": "quantitative", "scale": {"domain": [0, 4652], "nice": false, "zero": true}}, "text": {"field": "t"}}},
        {"data": {"values": [{"t": ")"}]}, "mark": {"type": "text", "fontSize": 20, "color": "black"},
         "encoding": {"x": {"datum": 1.13, "type": "quantitative", "scale": {"domain": [-5, 5], "nice": false, "zero": false}}, "y": {"datum": -656, "type": "quantitative", "scale": {"domain": [0, 4652], "nice": false, "zero": true}}, "text": {"field": "t"}}}
      ]
    },
    {
      "width": 345, "height": 280,
      "layer": [
        {"data": {"name": "hist"}, "transform": [{"filter": "datum.v === 'phi'"}],
         "mark": {"type": "line", "interpolate": "step", "color": "black", "strokeWidth": 1},
         "encoding": {
          "x": {"field": "pull", "type": "quantitative", "scale": {"domain": [-5, 5], "nice": false, "zero": false},
            "axis": {"title": null, "grid": false, "labelOverlap": false, "labelFlush": false, "labelBound": false, "tickCount": 500,
              "values": [-5,-4.8,-4.6,-4.4,-4.2,-4,-3.8,-3.6,-3.4,-3.2,-3,-2.8,-2.6,-2.4,-2.2,-2,-1.8,-1.6,-1.4,-1.2,-1,-0.8,-0.6,-0.4,-0.2,0,0.2,0.4,0.6,0.8,1,1.2,1.4,1.6,1.8,2,2.2,2.4,2.6,2.8,3,3.2,3.4,3.6,3.8,4,4.2,4.4,4.6,4.8,5],
              "labelExpr": "abs(datum.value - round(datum.value)) < 0.01 ? format(datum.value, 'd') : ''",
              "tickSize": {"condition": {"test": "abs(datum.value - round(datum.value)) < 0.01", "value": -9}, "value": -4.5},
              "labelPadding": 7}},
          "y": {"field": "count", "type": "quantitative", "scale": {"domain": [0, 4948], "nice": false, "zero": true},
            "axis": {"title": "counts", "titleFontSize": 17, "titlePadding": 3, "grid": false, "labelOverlap": false, "labelFlush": false, "labelBound": false, "tickCount": 500,
              "values": [0,100,200,300,400,500,600,700,800,900,1000,1100,1200,1300,1400,1500,1600,1700,1800,1900,2000,2100,2200,2300,2400,2500,2600,2700,2800,2900,3000,3100,3200,3300,3400,3500,3600,3700,3800,3900,4000,4100,4200,4300,4400,4500,4600,4700,4800,4900],
              "labelExpr": "datum.value % 500 === 0 ? format(datum.value / 1000, '') : ''",
              "tickSize": {"condition": {"test": "datum.value % 500 === 0", "value": -10}, "value": -5},
              "labelPadding": 13}}}},
        {"data": {"name": "fit"}, "transform": [{"filter": "datum.v === 'phi'"}],
         "mark": {"type": "line", "interpolate": "monotone", "color": "#c8c8c8", "strokeWidth": 3},
         "encoding": {"x": {"field": "pull", "type": "quantitative", "scale": {"domain": [-5, 5], "nice": false, "zero": false}}, "y": {"field": "count", "type": "quantitative", "scale": {"domain": [0, 4948], "nice": false, "zero": true}}}},
        {"data": {"values": [{"t": "×10³"}]}, "mark": {"type": "text", "fontSize": 16, "color": "black"},
         "encoding": {"x": {"datum": -5, "type": "quantitative", "scale": {"domain": [-5, 5], "nice": false, "zero": false}}, "y": {"datum": 5031, "type": "quantitative", "scale": {"domain": [0, 4948], "nice": false, "zero": true}}, "text": {"field": "t"}}},
        {"data": {"values": [{"t": "μ = -0.001±0.003"}]}, "mark": {"type": "text", "fontSize": 17.5, "color": "black"},
         "encoding": {"x": {"datum": -4.69, "type": "quantitative", "scale": {"domain": [-5, 5], "nice": false, "zero": false}}, "y": {"datum": 4523, "type": "quantitative", "scale": {"domain": [0, 4948], "nice": false, "zero": true}}, "text": {"field": "t"}}},
        {"data": {"values": [{"t": "σ = 1.015±0.003"}]}, "mark": {"type": "text", "fontSize": 17.5, "color": "black"},
         "encoding": {"x": {"datum": -4.54, "type": "quantitative", "scale": {"domain": [-5, 5], "nice": false, "zero": false}}, "y": {"datum": 4116, "type": "quantitative", "scale": {"domain": [0, 4948], "nice": false, "zero": true}}, "text": {"field": "t"}}},
        {"data": {"values": [{"t": "KinFit"}]}, "mark": {"type": "text", "fontSize": 24, "color": "#a0a0a0"},
         "encoding": {"x": {"datum": 2.43, "type": "quantitative", "scale": {"domain": [-5, 5], "nice": false, "zero": false}}, "y": {"datum": 4263, "type": "quantitative", "scale": {"domain": [0, 4948], "nice": false, "zero": true}}, "text": {"field": "t"}}},
        {"data": {"values": [{"t": "Pull(ϕ"}]}, "mark": {"type": "text", "fontSize": 20, "color": "black", "align": "right"},
         "encoding": {"x": {"datum": 0.507, "type": "quantitative", "scale": {"domain": [-5, 5], "nice": false, "zero": false}}, "y": {"datum": -748, "type": "quantitative", "scale": {"domain": [0, 4948], "nice": false, "zero": true}}, "text": {"field": "t"}}},
        {"data": {"values": [{"t": "π⁻"}]}, "mark": {"type": "text", "fontSize": 12, "color": "black"},
         "encoding": {"x": {"datum": 0.53, "type": "quantitative", "scale": {"domain": [-5, 5], "nice": false, "zero": false}}, "y": {"datum": -895, "type": "quantitative", "scale": {"domain": [0, 4948], "nice": false, "zero": true}}, "text": {"field": "t"}}},
        {"data": {"values": [{"t": ")"}]}, "mark": {"type": "text", "fontSize": 20, "color": "black"},
         "encoding": {"x": {"datum": 0.86, "type": "quantitative", "scale": {"domain": [-5, 5], "nice": false, "zero": false}}, "y": {"datum": -748, "type": "quantitative", "scale": {"domain": [0, 4948], "nice": false, "zero": true}}, "text": {"field": "t"}}}
      ]
    }
  ]
}
